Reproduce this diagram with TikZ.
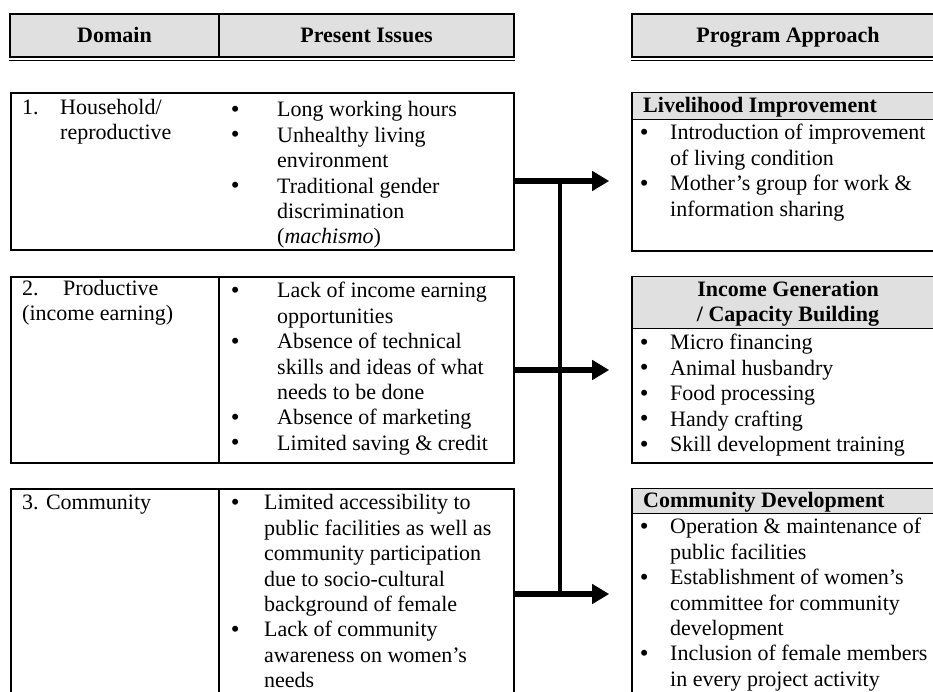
\documentclass[tikz,border=0pt]{standalone}
\usepackage{fontspec}
\setmainfont{Liberation Serif}
\usetikzlibrary{arrows.meta,positioning,calc}
\newcommand{\bul}{\makebox[8pt][c]{\raisebox{-0.5pt}{\fontsize{25}{0}\selectfont\textbullet}}}

\begin{document}
\begin{tikzpicture}[
    x=1pt, y=-1pt,
    font=\fontsize{22}{25.4}\selectfont,
    hdr/.style={rectangle, draw, line width=1.6pt, fill=black!12, minimum width=#1, minimum height=43pt, inner sep=0pt},
    hdr/.default=504pt,
    box/.style={rectangle, draw, line width=1.6pt, minimum width=#1, inner sep=0pt},
    box/.default=503pt,
    band/.style={rectangle, draw, line width=1.2pt, fill=black!12, minimum width=312pt, inner sep=0pt},
    htxt/.style={font=\fontsize{22}{25.4}\selectfont\bfseries, inner sep=0pt, text height=15pt, text depth=5pt},
    txt/.style={anchor=north west, inner sep=0pt, align=left, execute at begin node=\strut},
    rule/.style={line width=1.6pt},
    arr/.style={-{Triangle[length=17pt,width=19pt]}, line width=6pt, shorten >=22pt},
    spine/.style={line width=4pt}
]
    \useasboundingbox (0,0) rectangle (933,691);

    % Header row
    \node[hdr] (hdrL) at (262,35.5) {};
    \node[hdr=312pt] (hdrR) at (788,35.5) {};
    \draw[line width=1.2pt] ([yshift=-3pt]hdrL.south west) -- ([yshift=-3pt]hdrL.south east);
    \draw[line width=1.2pt] ([yshift=-3pt]hdrR.south west) -- ([yshift=-3pt]hdrR.south east);
    \coordinate (div) at (219,0);
    \draw[rule] (hdrL.north -| div) -- (hdrL.south -| div);
    \node[htxt] (hDom) at (114.5,37.5) {Domain};
    \node[htxt] (hIss) at (366.5,37.5) {Present Issues};
    \node[htxt] (hApp) at (788,37.5) {Program Approach};

    % Domain boxes
    \node[box, minimum height=157pt] (dom1) at (262.5,171.5) {};
    \node[box, minimum height=186pt] (dom2) at (262.5,370) {};
    \node[box, minimum height=271pt] (dom3) at (262.5,624.5) {};
    \draw[rule] (dom2.north -| div) -- (dom2.south -| div);
    \draw[rule] (dom3.north -| div) -- (dom3.south -| div);

    % Domain 1
    \node[txt] (d1) at (22,99) {\makebox[38pt][l]{1.}Household/\\\hspace*{38pt}reproductive};
    \node[txt] (iss1) at (231,99) {\begin{tabular}[t]{@{}p{46pt}@{}l@{}}
        \bul & Long working hours\\
        \bul & Unhealthy living\\
             & environment\\
        \bul & Traditional gender\\
             & discrimination\\
             & (\textit{machismo})
    \end{tabular}};

    % Domain 2
    \node[txt] (d2) at (22,280) {\makebox[41pt][l]{2.}Productive\\(income earning)};
    \node[txt] (iss2) at (231,280) {\begin{tabular}[t]{@{}p{46pt}@{}l@{}}
        \bul & Lack of income earning\\
             & opportunities\\
        \bul & Absence of technical\\
             & skills and ideas of what\\
             & needs to be done\\
        \bul & Absence of marketing\\
        \bul & Limited saving \& credit
    \end{tabular}};

    % Domain 3
    \node[txt] (d3) at (22,492) {3. Community};
    \node[txt] (iss3) at (231,492) {\begin{tabular}[t]{@{}p{33pt}@{}l@{}}
        \bul & Limited accessibility to\\
             & public facilities as well as\\
             & community participation\\
             & due to socio-cultural\\
             & background of female\\
        \bul & Lack of community\\
             & awareness on women's\\
             & needs
    \end{tabular}};

    % Program approach boxes
    \node[box=312pt, minimum height=158pt] (app1) at (788,172) {};
    \node[band, minimum height=27pt, anchor=north] (band1) at (app1.north) {};
    \node[box=312pt, minimum height=186pt] (app2) at (788,370) {};
    \node[band, minimum height=52pt, anchor=north] (band2) at (app2.north) {};
    \node[box=312pt, minimum height=271pt] (app3) at (788,624.5) {};
    \node[band, minimum height=25pt, anchor=north] (band3) at (app3.north) {};

    % Livelihood
    \node[txt, font=\fontsize{22}{25.4}\selectfont\bfseries] (a1h) at (643,95) {Livelihood Improvement};
    \node[txt] (a1) at (640,122) {\begin{tabular}[t]{@{}p{30pt}@{}l@{}}
        \bul & Introduction of improvement\\
             & of living condition\\
        \bul & Mother's group for work \&\\
             & information sharing
    \end{tabular}};

    % Income generation
    \node[txt, anchor=north, align=center, font=\fontsize{22}{25.4}\selectfont\bfseries] (a2h) at (788,281) {Income Generation\\/ Capacity Building};
    \node[txt] (a2) at (640,332) {\begin{tabular}[t]{@{}p{30pt}@{}l@{}}
        \bul & Micro financing\\
        \bul & Animal husbandry\\
        \bul & Food processing\\
        \bul & Handy crafting\\
        \bul & Skill development training
    \end{tabular}};

    % Community development
    \node[txt, font=\fontsize{22}{25.4}\selectfont\bfseries] (a3h) at (643,490) {Community Development};
    \node[txt] (a3) at (640,516) {\begin{tabular}[t]{@{}p{30pt}@{}l@{}}
        \bul & Operation \& maintenance of\\
             & public facilities\\
        \bul & Establishment of women's\\
             & committee for community\\
             & development\\
        \bul & Inclusion of female members\\
             & in every project activity
    \end{tabular}};

    % Connections
    \coordinate (y1) at (0,181);
    \coordinate (y2) at (0,370);
    \coordinate (y3) at (0,594);
    \coordinate (sp) at (560,0);
    \draw[spine] (sp |- y1) -- (sp |- y3);
    \draw[arr] (dom1.east |- y1) -- (app1.west |- y1);
    \draw[arr] (dom2.east |- y2) -- (app2.west |- y2);
    \draw[arr] (dom3.east |- y3) -- (app3.west |- y3);

\end{tikzpicture}
\end{document}
